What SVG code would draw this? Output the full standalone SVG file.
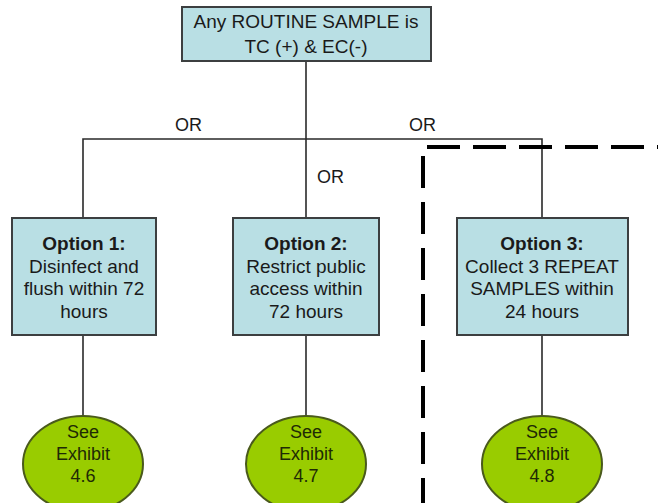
<svg xmlns="http://www.w3.org/2000/svg" width="658" height="503" viewBox="0 0 658 503">
<style>
.box{fill:#b9dfe4;stroke:#3c3f40;stroke-width:2}
.circ{fill:#99cc00;stroke:#4a5a1c;stroke-width:2}
.t{font-family:"Liberation Sans",Arial,sans-serif;font-size:19px;fill:#1a1a1a;text-anchor:middle}
.b{font-weight:bold}
.ct{font-family:"Liberation Sans",Arial,sans-serif;font-size:18px;fill:#1e2a05;text-anchor:middle}
.or{font-family:"Liberation Sans",Arial,sans-serif;font-size:18px;fill:#1a1a1a}
.ln{stroke:#2a2a2a;stroke-width:1.6;fill:none}
.dash{stroke:#000;stroke-width:4;fill:none}
</style>
<rect width="658" height="503" fill="#ffffff"/>
<g id="connectors">
<line class="ln" x1="306" y1="61" x2="306" y2="218"/>
<polyline class="ln" points="83,218 83,139 542,139 542,218"/>
<line class="ln" x1="83" y1="335" x2="83" y2="416"/>
<line class="ln" x1="306" y1="335" x2="306" y2="416"/>
<line class="ln" x1="542" y1="335" x2="542" y2="416"/>
<text class="or" x="175" y="131">OR</text>
<text class="or" x="409" y="131">OR</text>
<text class="or" x="317" y="183">OR</text>
</g>
<g id="boundary">
<line class="dash" x1="427" y1="147" x2="658" y2="147" stroke-dasharray="33 13"/>
<line class="dash" x1="423" y1="156" x2="423" y2="503" stroke-dasharray="32 14"/>
</g>
<g id="start">
<rect class="box" x="182" y="7" width="249" height="54"/>
<text class="t" x="306" y="28">Any ROUTINE SAMPLE is</text>
<text class="t" x="306" y="53">TC (+) &amp; EC(-)</text>
</g>
<g id="option1">
<rect class="box" x="12" y="218" width="144" height="117"/>
<text class="t b" x="84" y="250">Option 1:</text>
<text class="t" x="84" y="273">Disinfect and</text>
<text class="t" x="84" y="295">flush within 72</text>
<text class="t" x="84" y="318">hours</text>
</g>
<g id="option2">
<rect class="box" x="233" y="218" width="146" height="117"/>
<text class="t b" x="306" y="250">Option 2:</text>
<text class="t" x="306" y="273">Restrict public</text>
<text class="t" x="306" y="295">access within</text>
<text class="t" x="306" y="318">72 hours</text>
</g>
<g id="option3">
<rect class="box" x="457" y="218" width="171" height="117"/>
<text class="t b" x="542" y="250">Option 3:</text>
<text class="t" x="542" y="273">Collect 3 REPEAT</text>
<text class="t" x="542" y="295">SAMPLES within</text>
<text class="t" x="542" y="318">24 hours</text>
</g>
<g id="exhibit46">
<ellipse class="circ" cx="83" cy="464" rx="60" ry="48"/>
<text class="ct" x="83" y="438">See</text>
<text class="ct" x="83" y="460">Exhibit</text>
<text class="ct" x="83" y="482">4.6</text>
</g>
<g id="exhibit47">
<ellipse class="circ" cx="306" cy="464" rx="60" ry="48"/>
<text class="ct" x="306" y="438">See</text>
<text class="ct" x="306" y="460">Exhibit</text>
<text class="ct" x="306" y="482">4.7</text>
</g>
<g id="exhibit48">
<ellipse class="circ" cx="542" cy="464" rx="60" ry="48"/>
<text class="ct" x="542" y="438">See</text>
<text class="ct" x="542" y="460">Exhibit</text>
<text class="ct" x="542" y="482">4.8</text>
</g>
</svg>
